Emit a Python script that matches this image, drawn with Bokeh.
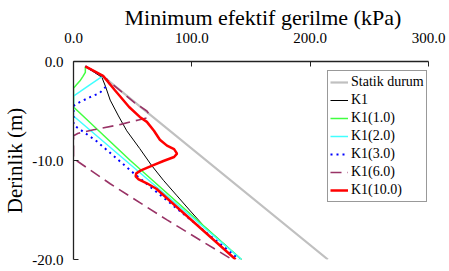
from bokeh.plotting import figure
from bokeh.models import Range1d, LinearAxis, FixedTicker, PrintfTickFormatter, Legend, LegendItem, Title
from bokeh.embed import file_html
from bokeh.resources import INLINE

# ---- data (kPa, depth m) ----
statik_x = [10, 25, 215]
statik_y = [-0.5, -1.5, -20]

k1_x = [10, 24, 27, 31, 38, 45, 56, 66, 76, 87, 98, 110, 126, 142]
k1_y = [-0.5, -1.6, -2.5, -3.9, -5.5, -7.0, -8.8, -10.5, -12.0, -13.5, -15.0, -16.6, -18.3, -20]

k1_10_x = [10, 10, 8, 5.5, 2.5, 0, 0, 48, 142]
k1_10_y = [-0.5, -1.1, -1.5, -1.95, -2.35, -2.7, -4.6, -10.0, -20]

k1_20_x = [10, 25, 15, 5.5, 0, 0, 48, 142]
k1_20_y = [-0.5, -1.45, -2.25, -3.05, -3.5, -5.5, -10.4, -20]

k1_30_x = [10, 25, 31, 22, 14, 7, 2, 0, 0, 19, 51, 140]
k1_30_y = [-0.5, -1.5, -2.1, -3.2, -3.6, -4.0, -4.3, -4.5, -6.4, -8.0, -11.3, -20]

k1_60_x = [10, 25, 40, 52, 62, 64, 62, 55, 40, 17, 4, 0, 0, 31, 79, 134]
k1_60_y = [-0.5, -1.5, -3.0, -4.2, -5.0, -5.35, -5.7, -5.9, -6.35, -6.9, -7.25, -7.5, -9.8, -12.35, -16.0, -20]

k1_100_x = [10, 25, 35, 47, 56, 62, 68, 73, 79, 85, 87.5, 85, 76, 67, 57, 53, 52.5, 55, 62, 70, 137]
k1_100_y = [-0.5, -1.45, -2.9, -4.6, -5.6, -6.1, -7.0, -7.9, -8.5, -8.85, -9.3, -9.65, -10.05, -10.5, -11.0, -11.3, -11.6, -11.9, -12.3, -12.85, -20]

x_ticks = [0, 100, 200, 300]
y_ticks = [0, -10, -20]
x_title = "Minimum efektif gerilme (kPa)"
y_title = "Derinlik (m)"
names = ["Statik durum", "K1", "K1(1.0)", "K1(2.0)", "K1(3.0)", "K1(6.0)", "K1(10.0)"]

FONT = "Liberation Serif"
QFONT = "'Liberation Serif'"

p = figure(width=446, height=266, output_backend="svg", toolbar_location=None,
           x_range=Range1d(0, 300), y_range=Range1d(-20, 0),
           x_axis_location=None, y_axis_location=None,
           min_border_left=73, min_border_right=18, min_border_top=61, min_border_bottom=7)
p.outline_line_color = None
p.xgrid.visible = False
p.ygrid.visible = False
p.background_fill_color = "white"
p.border_fill_color = "white"

xa = LinearAxis(ticker=FixedTicker(ticks=x_ticks), formatter=PrintfTickFormatter(format="%.1f"))
ya = LinearAxis(ticker=FixedTicker(ticks=y_ticks), formatter=PrintfTickFormatter(format="%.1f"),
                axis_label=y_title)
for ax in (xa, ya):
    ax.major_tick_in = 5
    ax.major_tick_out = 0
    ax.minor_tick_line_color = None
    ax.axis_line_color = "#222222"
    ax.axis_line_width = 1.3
    ax.major_tick_line_color = "#222222"
    ax.major_label_text_font = FONT
    ax.major_label_text_font_size = "15px"
    ax.major_label_text_color = "black"
xa.major_label_standoff = 19
ya.major_label_standoff = 10
ya.axis_label_standoff = 2
ya.axis_label_text_font = QFONT
ya.axis_label_text_font_size = "21px"
ya.axis_label_text_font_style = "normal"
ya.axis_label_text_color = "black"
p.add_layout(xa, "above")
p.add_layout(ya, "left")

p.add_layout(Title(text=x_title, align="left", offset=51, standoff=0,
                   text_font=QFONT, text_font_size="22px", text_font_style="normal",
                   text_color="black"), "above")

r_stat = p.line(statik_x, statik_y, line_color="#c0c0c0", line_width=2.2)
r_k1 = p.line(k1_x, k1_y, line_color="black", line_width=1)
r_10 = p.line(k1_10_x, k1_10_y, line_color="#40ff40", line_width=1.5)
r_20 = p.line(k1_20_x, k1_20_y, line_color="#40ffff", line_width=1.5)
r_30 = p.line(k1_30_x, k1_30_y, line_color="#0000ff", line_width=2, line_dash="2 4")
r_60 = p.line(k1_60_x, k1_60_y, line_color="#993366", line_width=1.6, line_dash="11 6")
r_100 = p.line(k1_100_x, k1_100_y, line_color="#ff0000", line_width=2.5)

items = [LegendItem(label=n, renderers=[r]) for n, r in
         zip(names, [r_stat, r_k1, r_10, r_20, r_30, r_60, r_100])]
legend = Legend(items=items, location=(254, 57), orientation="vertical",
                label_text_font=FONT, label_text_font_size="14px", label_text_color="black",
                glyph_width=18, glyph_height=18, label_height=18, label_standoff=3,
                spacing=0, padding=2, margin=0,
                border_line_color="#333333", border_line_width=1,
                background_fill_color="white", background_fill_alpha=1)
p.add_layout(legend, "center")

open("out.html", "w").write(file_html(p, INLINE))
